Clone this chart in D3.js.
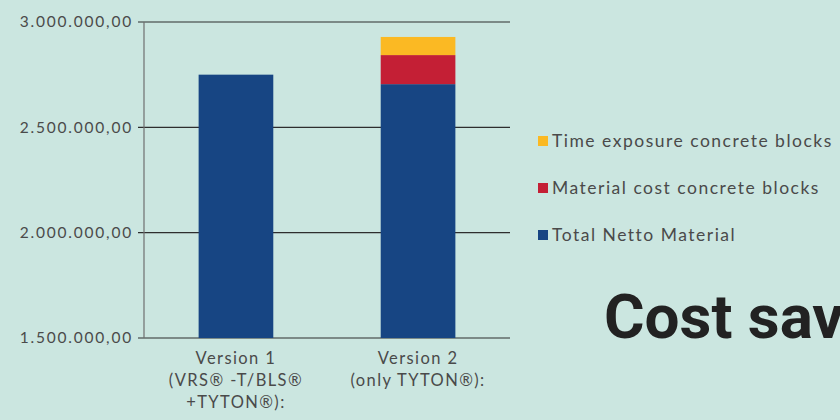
<!DOCTYPE html>
<html>
<head>
<meta charset="utf-8">
<script src="https://cdn.jsdelivr.net/npm/d3@7"></script>
<style>
  html, body { margin: 0; padding: 0; background: #cbe6e0; }
  svg { display: block; }
  text { font-family: "Lato", "Open Sans", sans-serif; fill: #4a4a4a; }
</style>
</head>
<body>
<div id="chart"></div>
<script>
// data
const categories = ["Version 1", "Version 2"];
const categoryLines = [
  ["Version 1", "(VRS\u00ae -T/BLS\u00ae", "+TYTON\u00ae):"],
  ["Version 2", "(only TYTON\u00ae):"]
];
const seriesNames = ["Total Netto Material", "Material cost concrete blocks", "Time exposure concrete blocks"];
const totalNetto = [2750000, 2705000];
const materialCost = [0, 138000];
const timeExposure = [0, 86000];
const yTicks = [1500000, 2000000, 2500000, 3000000];
const colors = ["#174583", "#c41f35", "#fbb923"];

const W = 840, H = 420;
const margin = { top: 22, left: 144, right: 330, bottom: 82 };
const width = W - margin.left - margin.right;
const height = H - margin.top - margin.bottom;

const svg = d3.select("#chart").append("svg")
    .attr("width", W)
    .attr("height", H);

const g = svg.append("g")
    .attr("transform", `translate(${margin.left},${margin.top})`);

const x = d3.scaleBand()
    .domain(categories)
    .range([0, 366])
    .paddingInner(0.59)
    .paddingOuter(0.3);

const y = d3.scaleLinear()
    .domain([1500000, 3000000])
    .range([height, 0]);

// stacked data
const rows = categories.map((c, i) => ({
  cat: c,
  [seriesNames[0]]: totalNetto[i],
  [seriesNames[1]]: materialCost[i],
  [seriesNames[2]]: timeExposure[i]
}));
const stacked = d3.stack().keys(seriesNames)(rows);

// number format like 3.000.000,00
const fmt = v => d3.format(",.2f")(v).replace(/,/g, "#").replace(/\./g, ",").replace(/#/g, ".");

// gridlines
g.append("g")
    .selectAll("line")
    .data(yTicks)
    .enter().append("line")
    .attr("x1", -6)
    .attr("x2", 366)
    .attr("y1", d => y(d))
    .attr("y2", d => y(d))
    .attr("stroke", "#2e2e2e")
    .attr("stroke-width", 1.2);

// bars
g.selectAll(".series")
    .data(stacked)
    .enter().append("g")
    .attr("fill", (d, i) => colors[i])
    .selectAll("rect")
    .data(d => d)
    .enter().append("rect")
    .attr("x", d => x(d.data.cat))
    .attr("width", x.bandwidth())
    .attr("y", d => y(Math.max(d[1], 1500000)))
    .attr("height", d => Math.max(0, y(Math.max(d[0], 1500000)) - y(Math.max(d[1], 1500000))));

// y axis line
g.append("line")
    .attr("x1", 0).attr("x2", 0)
    .attr("y1", 0).attr("y2", height)
    .attr("stroke", "#6f6f6f")
    .attr("stroke-width", 1.2);

// y tick labels
g.append("g")
    .selectAll("text")
    .data(yTicks)
    .enter().append("text")
    .attr("x", -11)
    .attr("y", d => y(d))
    .attr("dy", "0.35em")
    .attr("text-anchor", "end")
    .style("font-size", "15.5px")
    .style("letter-spacing", "1.8px")
    .text(d => fmt(d));

// x labels
categories.forEach((c, i) => {
  const t = g.append("text")
      .attr("text-anchor", "middle")
      .attr("x", x(c) + x.bandwidth() / 2)
      .attr("y", height + 26)
      .style("font-size", "16.5px")
      .style("letter-spacing", "1.4px");
  categoryLines[i].forEach((line, j) => {
    t.append("tspan")
        .attr("x", x(c) + x.bandwidth() / 2)
        .attr("dy", j === 0 ? 0 : 22)
        .text(line);
  });
});

// legend (reverse order, top = yellow)
const legend = svg.append("g").attr("transform", "translate(538,141)");
seriesNames.slice().reverse().forEach((name, i) => {
  const row = legend.append("g").attr("transform", `translate(0,${i * 47})`);
  row.append("rect")
      .attr("x", 0).attr("y", -5)
      .attr("width", 10).attr("height", 10)
      .attr("fill", colors[seriesNames.length - 1 - i]);
  row.append("text")
      .attr("x", 14)
      .attr("dy", "0.35em")
      .style("font-size", "17.5px")
      .style("letter-spacing", "1.5px")
      .text(name);
});

// title (cut off at right edge, as in the original)
svg.append("text")
    .attr("x", 604)
    .attr("y", 338)
    .style("font-family", "Roboto, sans-serif")
    .style("font-weight", "700")
    .style("font-size", "62px")
    .style("fill", "#222")
    .text("Cost savings");
</script>
</body>
</html>
